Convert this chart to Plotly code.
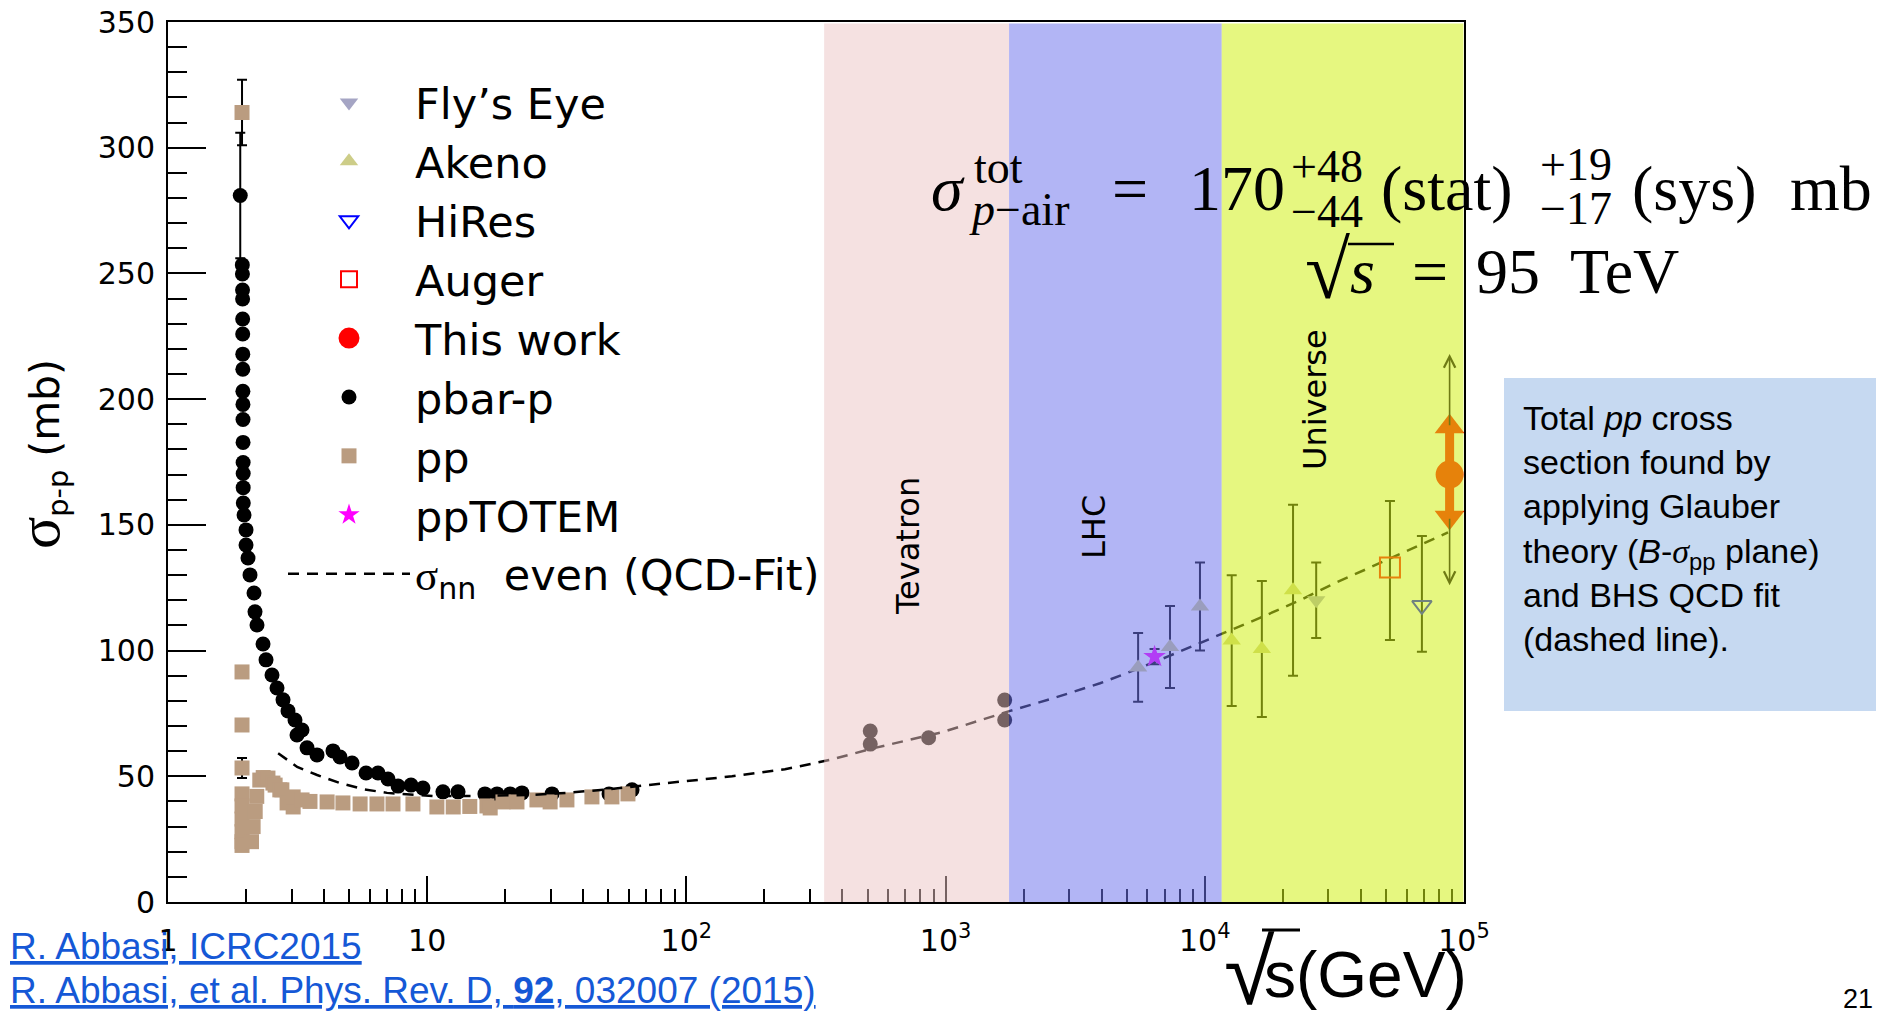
import numpy as np
import plotly.graph_objects as go

# ---------------- data ----------------
pbarp_E = [1.90, 1.935, 1.937, 1.939, 1.94, 1.941, 1.942, 1.943, 1.944, 1.945, 1.946, 1.947, 1.948,
           1.949, 1.95, 1.95, 1.952, 1.965, 2.0, 2.0, 2.035, 2.072, 2.147, 2.166, 2.205, 2.326, 2.389,
           2.519, 2.634, 2.778, 2.904, 3.09, 3.289, 3.146, 3.439, 3.757, 4.33, 4.61, 5.13, 5.81, 6.46,
           7.06, 7.72, 8.66, 9.63, 11.5, 13.15, 16.7, 18.6, 20.9, 23.2, 30.3, 50.3, 61.7,
           512, 512, 860, 1690, 1690]
pbarp_sigma = [281, 253.4, 249.8, 243.4, 239.8, 231.9, 225.9, 217.9, 211.9, 203.1, 197.9, 191.9, 182.8,
               174.8, 170.4, 164.8, 158.7, 153.9, 148.0, 142.0, 136.8, 130.1, 122.9, 115.4, 110.2, 102.6, 96.3,
               90.3, 85.1, 80.4, 76.0, 72.4, 68.4, 66.4, 61.3, 58.5, 60.1, 57.7, 55.3, 51.3, 51.3,
               48.9, 46.1, 46.5, 45.3, 43.8, 43.8, 43.0, 43.0, 43.0, 43.4, 43.0, 43.0, 44.6,
               68.0, 62.8, 65.3, 80.3, 72.4]
pbarp_err = [25] + [0] * 58

pp_E = [1.93, 1.93, 1.93, 1.93, 1.93, 1.93, 1.93, 1.93, 1.93, 1.93,
        2.10, 2.13, 2.17, 2.20, 2.26, 2.33, 2.43, 2.54, 2.59, 2.70, 2.75, 2.88, 3.04, 3.04, 3.29, 3.53,
        4.11, 4.73, 5.51, 6.40, 7.38, 8.81, 10.9, 12.6, 14.6, 17.0, 17.5, 19.6, 22.2, 26.5, 29.8, 34.6,
        43.2, 51.6, 59.5]
pp_sigma = [314, 91.5, 70.4, 53.3, 43.0, 38.2, 33.0, 28.0, 24.0, 22.5,
            24.0, 30.0, 36.0, 42.0, 48.5, 49.5, 49.3, 47.3, 46.5, 44.6, 44.6, 39.4, 37.8, 41.8, 40.6, 40.0,
            39.8, 39.4, 39.0, 39.0, 39.0, 39.0, 37.8, 37.8, 38.0, 38.2, 37.4, 39.8, 39.8, 40.6, 39.8, 40.6,
            41.8, 41.8, 43.0]
pp_err = [13, 0, 0, 4] + [0] * 41

fit_E = [2.66, 3.15, 3.76, 4.61, 5.65, 7.0, 10.5, 15.6, 25.6, 34.6, 50.7, 72.4, 106, 150, 240, 358,
         534, 968, 1773, 2594, 3943, 5284, 7146, 9576, 11640, 16320, 23290, 31230, 42250, 56660,
         75910, 86760]
fit_sigma = [59.2, 53.7, 50.5, 47.3, 44.9, 43.4, 42.2, 42.2, 42.6, 43.4, 44.9, 46.5, 48.3, 50.0, 52.8,
             56.5, 61.3, 67.5, 76.0, 81.0, 87.0, 92.0, 97.5, 103, 106.5, 113, 120, 126.5, 132.5, 138.5,
             144.5, 147]

akeno_E = [5530, 7340, 9580, 12700, 16600, 21900]
akeno_sigma = [93.3, 101.4, 117.5, 104.0, 100.6, 124.0]
akeno_err_plus = [13.7, 16.3, 17.5, 26.0, 27.1, 34.0]
akeno_err_minus = [13.7, 16.3, 17.5, 26.0, 27.0, 34.0]

flyseye_E = [26900]
flyseye_sigma = [120]
flyseye_err = [15]

hires_E = [68800]
hires_sigma = [118]
hires_err_plus = [27.6]
hires_err_minus = [18.5]

auger_E = [51800]
auger_sigma = [133]
auger_err_plus = [26.5]
auger_err_minus = [28.8]

totem_E = [6400]
totem_sigma = [97.6]
totem_err = [3]

this_E = [88000]
this_sigma = [170]
this_stat_plus = [48]
this_stat_minus = [44]
this_sys_plus = [19]
this_sys_minus = [17]

band_names = ["Tevatron", "LHC", "Universe"]
band_lo = [340, 1757, 11620]
band_hi = [1757, 11620, 99500]

y_ticks = [0, 50, 100, 150, 200, 250, 300, 350]

# ---------------- geometry helpers (page pixels -> paper) ----------------
W, H = 1885, 1013
L, R, T, B = 168, 1464, 22, 902


def px(x):
    return (x - L) / (R - L)


def py(y):
    return (B - y) / (B - T)


SERIF = "Liberation Serif"
SANS = "DejaVu Sans"
ARIAL = "Liberation Sans"

fig = go.Figure()

ebar = dict(type="data", symmetric=True, color="black", thickness=2, width=5)

fig.add_trace(go.Scatter(
    x=pbarp_E, y=pbarp_sigma, mode="markers", name="pbar-p", legendrank=6,
    marker=dict(symbol="circle", size=15, color="black"),
    error_y=dict(ebar, array=pbarp_err)))

fig.add_trace(go.Scatter(
    x=pp_E, y=pp_sigma, mode="markers", name="pp", legendrank=7,
    marker=dict(symbol="square", size=15, color="#BA9C80"),
    error_y=dict(ebar, array=pp_err)))

fig.add_trace(go.Scatter(
    x=fit_E, y=fit_sigma, mode="lines", legendrank=9,
    name="<span style=\"font-family:Liberation Serif\">σ</span><sub>nn</sub>  even (QCD-Fit)",
    line=dict(color="black", width=2.5, dash="11px,8px")))

fig.add_trace(go.Scatter(
    x=flyseye_E, y=flyseye_sigma, mode="markers", name="Fly’s Eye", legendrank=1,
    marker=dict(symbol="triangle-down", size=16, color="#A5A5C4"),
    error_y=dict(ebar, array=flyseye_err)))

fig.add_trace(go.Scatter(
    x=akeno_E, y=akeno_sigma, mode="markers", name="Akeno", legendrank=2,
    marker=dict(symbol="triangle-up", size=16, color="#CDCD88"),
    error_y=dict(ebar, symmetric=False, array=akeno_err_plus, arrayminus=akeno_err_minus)))

fig.add_trace(go.Scatter(
    x=hires_E, y=hires_sigma, mode="markers", name="HiRes", legendrank=3,
    marker=dict(symbol="triangle-down-open", size=17, color="blue", line=dict(width=2, color="blue")),
    error_y=dict(ebar, symmetric=False, array=hires_err_plus, arrayminus=hires_err_minus)))

fig.add_trace(go.Scatter(
    x=auger_E, y=auger_sigma, mode="markers", name="Auger", legendrank=4,
    marker=dict(symbol="square-open", size=20, color="red", line=dict(width=2, color="red")),
    error_y=dict(ebar, symmetric=False, array=auger_err_plus, arrayminus=auger_err_minus)))

fig.add_trace(go.Scatter(
    x=totem_E, y=totem_sigma, mode="markers", name="ppTOTEM", legendrank=8,
    marker=dict(symbol="star", size=17, color="magenta"),
    error_y=dict(ebar, array=totem_err)))

# systematic arrows of "This work"
sys_hi = [s + p for s, p in zip(this_sigma, this_sys_plus)]
sys_lo = [s - m for s, m in zip(this_sigma, this_sys_minus)]
fig.add_trace(go.Scatter(
    x=this_E * 2, y=sys_hi + sys_lo, mode="markers", showlegend=False, hoverinfo="skip",
    marker=dict(symbol=["triangle-up", "triangle-down"], size=26, color="red")))

fig.add_trace(go.Scatter(
    x=this_E, y=this_sigma, mode="markers", name="This work", legendrank=5,
    marker=dict(symbol="circle", size=23, color="red", line=dict(width=5, color="red")),
    error_y=dict(type="data", symmetric=False, array=this_sys_plus, arrayminus=this_sys_minus,
                 color="red", thickness=9, width=0)))

# statistical arrows (drawn as annotations)
annotations = []
for e, s, sp, sm, yp, ym in zip(this_E, this_sigma, this_stat_plus, this_stat_minus,
                                 this_sys_plus, this_sys_minus):
    for head, tail in ((s + sp, s + yp), (s - sm, s - ym)):
        annotations.append(dict(
            x=np.log10(e), y=head, ax=np.log10(e), ay=tail, xref="x", yref="y",
            axref="x", ayref="y", text="", showarrow=True, arrowhead=5, arrowsize=1.4,
            arrowwidth=1.6, arrowcolor="#6E7A14", standoff=0, startstandoff=0))

# translucent energy bands drawn over everything (tint the marks beneath)
band_fill = ["rgba(236,196,196,0.5)", "rgba(110,115,236,0.53)", "rgba(209,240,20,0.54)"]
shapes = []
for lo, hi, col in zip(band_lo, band_hi, band_fill):
    shapes.append(dict(type="rect", xref="x", yref="y", x0=lo, x1=hi,
                       y0=-1, y1=349.4, fillcolor=col, line=dict(width=0), layer="above"))

# blue note box
shapes.append(dict(type="rect", xref="paper", yref="paper", x0=px(1504), x1=px(1876),
                   y0=py(711), y1=py(378), fillcolor="#C6D9F1", line=dict(width=0), layer="below"))

# radical bars (vinculum) of the two square roots
shapes.append(dict(type="line", xref="paper", yref="paper", x0=px(1348), x1=px(1394),
                   y0=py(244), y1=py(244), line=dict(color="black", width=2.5)))
shapes.append(dict(type="line", xref="paper", yref="paper", x0=px(1262), x1=px(1300),
                   y0=py(930), y1=py(930), line=dict(color="black", width=3)))

# band labels
band_label_pos = [(908, 546), (1094, 527), (1315, 400)]
for name, (cx, cy) in zip(band_names, band_label_pos):
    annotations.append(dict(x=px(cx), y=py(cy), xref="paper", yref="paper", text=name,
                            textangle=-90, showarrow=False, xanchor="center", yanchor="middle",
                            font=dict(family=SANS, size=32, color="black")))


def text_at(text, left, baseline, size, family, asc, color="black", align="left"):
    top = baseline - asc * size - 2
    return dict(x=px(left - 2), y=py(top), xref="paper", yref="paper", text=text,
                showarrow=False, xanchor="left", yanchor="top", align=align,
                font=dict(family=family, size=size, color=color))


# formula
big, small = 64, 46
formula = [
    ("<i>σ</i>", 931, 210, big), ("tot", 974, 183, small), ("<i>p</i>−air", 969, 225, small),
    ("=", 1112, 210, big), ("170", 1189, 210, big), ("+48", 1291, 182, small),
    ("−44", 1291, 227, small), ("(stat)", 1381, 210, big), ("+19", 1540, 180, small),
    ("−17", 1540, 224, small), ("(sys)", 1632, 210, big), ("mb", 1790, 210, big),
    ("<i>s</i>", 1350, 293, big),
    ("=", 1412, 293, big), ("95", 1476, 293, big), ("TeV", 1570, 293, big),
]
for t, x0, b0, s0 in formula:
    annotations.append(text_at(t, x0, b0, s0, SERIF, 0.891))
annotations.append(text_at("√", 1305, 298, 82, SERIF, 0.891))

# note text
annotations.append(text_at(
    "Total <i>pp</i> cross<br>section found by<br>applying Glauber<br>"
    "theory (<i>B</i>-<span style=\"font-family:Liberation Serif\"><i>σ</i></span><sub>pp</sub> plane)<br>"
    "and BHS QCD fit<br>(dashed line).", 1523, 430, 34, ARIAL, 0.905))

# references
annotations.append(text_at("<span style=\"text-decoration:underline\">R. Abbasi, ICRC2015</span>",
                           10, 959, 37, ARIAL, 0.905, color="#1558D6"))
annotations.append(text_at("<span style=\"text-decoration:underline\">R. Abbasi, et al. Phys. Rev. D, "
                           "<b>92</b>, 032007 (2015)</span>",
                           10, 1003, 37, ARIAL, 0.905, color="#1558D6"))
annotations.append(text_at("21", 1843, 1008, 27, ARIAL, 0.905))

# axis titles
annotations.append(text_at("√", 1224, 1004, 92, ARIAL, 0.905))
annotations.append(text_at("s(GeV)", 1264, 997, 64, ARIAL, 0.905))
annotations.append(dict(x=px(40), y=py(454), xref="paper", yref="paper", textangle=-90,
                        text="<span style=\"font-family:Liberation Serif;font-size:60px\">σ</span>"
                             "<sub>p-p</sub> (mb)",
                        showarrow=False, xanchor="center", yanchor="middle",
                        font=dict(family=SANS, size=41, color="black")))

fig.update_layout(
    width=W, height=H, margin=dict(l=L, r=W - R, t=T, b=H - B, pad=0, autoexpand=False),
    paper_bgcolor="white", plot_bgcolor="white",
    showlegend=True,
    legend=dict(x=px(283), y=py(68), xanchor="left", yanchor="top", traceorder="normal",
                font=dict(family=SANS, size=43, color="black"), bgcolor="rgba(0,0,0,0)",
                itemwidth=122, borderwidth=0),
    xaxis=dict(type="log", range=[0, 5], dtick=1, exponentformat="power", automargin=False,
               showgrid=False, zeroline=False, showline=True, linewidth=2, linecolor="black",
               mirror=True, ticks="inside", ticklen=26, tickwidth=2, tickcolor="black",
               tickfont=dict(family=SANS, size=24, color="black"), ticklabelstandoff=12,
               minor=dict(ticks="inside", ticklen=13, tickwidth=2, tickcolor="black",
                          dtick="D1", showgrid=False)),
    yaxis=dict(range=[0, 350], tickvals=y_ticks, showgrid=False, zeroline=False, automargin=False,
               showline=True, linewidth=2, linecolor="black", mirror=True,
               ticks="inside", ticklen=38, tickwidth=2, tickcolor="black",
               tickfont=dict(family=SANS, size=30, color="black"), ticklabelstandoff=5,
               minor=dict(ticks="inside", ticklen=19, tickwidth=2, tickcolor="black",
                          dtick=10, showgrid=False)),
    shapes=shapes, annotations=annotations,
)

fig.write_html("out.html")
